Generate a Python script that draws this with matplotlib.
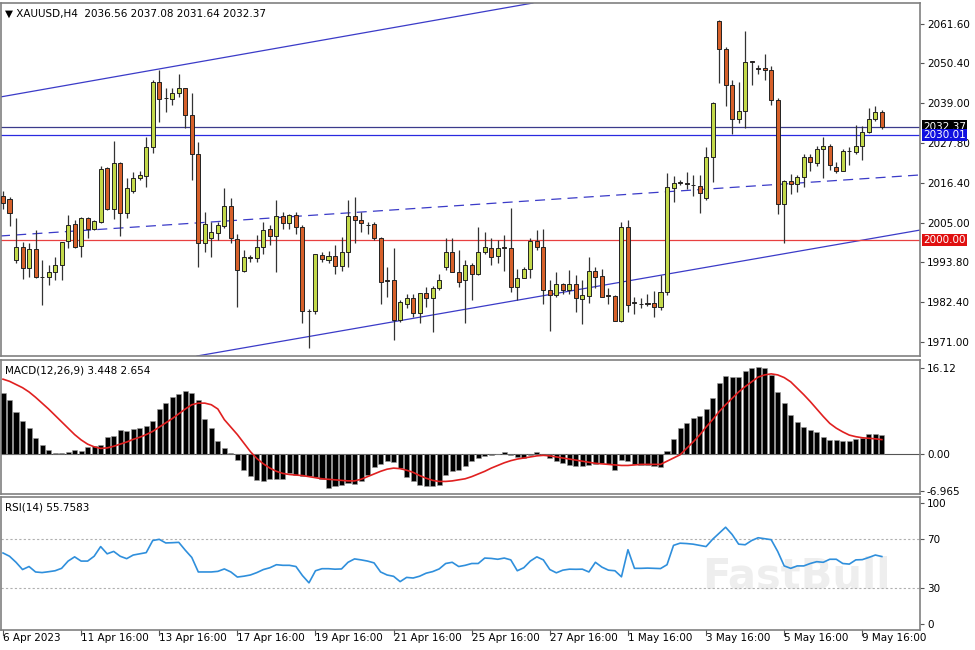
import matplotlib
matplotlib.use("Agg")
import matplotlib.pyplot as plt
import numpy as np

opens = [2012.5,2011.7,1994.4,1998.1,1992.1,1997.5,1989.6,1989.5,1991.0,1993.0,
 1999.8,2004.6,1998.4,2006.3,2003.2,2005.2,2020.6,2008.9,2022.0,2007.7,
 2014.0,2017.7,2018.3,2026.6,2045.1,2040.6,2040.2,2041.9,2043.4,2035.7,
 2024.6,1999.2,2000.6,2002.0,2004.0,2009.7,2000.3,1991.2,1995.0,1994.9,
 1998.1,2003.2,2001.2,2006.9,2004.9,2007.2,2003.8,1979.9,1979.8,1995.8,
 1994.4,1995.5,1992.7,1996.6,2006.9,2005.8,2004.4,2004.6,2000.6,1988.5,
 1988.7,1977.3,1981.8,1983.6,1979.3,1985.0,1983.6,1986.4,1992.4,1996.6,
 1991.0,1988.7,1993.0,1990.4,1996.6,1997.8,1995.5,1997.9,1997.8,1986.7,
 1989.2,1991.8,1999.8,1998.1,1985.8,1984.4,1987.5,1985.8,1987.5,1983.3,
 1984.1,1991.2,1989.8,1984.2,1984.1,1977.0,2003.8,1982.2,1981.9,1981.9,
 1982.1,1981.0,1985.3,2014.9,2016.4,2016.1,2015.8,2015.4,2012.0,2023.7,
 2062.5,2054.5,2044.2,2034.5,2036.8,2050.9,2049.1,2049.0,2048.5,2040.0,
 2010.3,2016.9,2016.0,2018.0,2023.7,2022.0,2026.0,2026.9,2020.9,2019.7,
 2025.5,2025.1,2026.9,2030.8,2034.5,2036.56]
closes = [2010.5,2007.7,1998.1,1992.1,1997.5,1989.5,1989.4,1991.0,1993.0,1999.5,
 2004.3,1998.1,2006.3,2003.2,2005.5,2020.3,2008.9,2022.0,2007.7,2014.9,
 2017.7,2018.6,2026.6,2045.1,2040.2,2040.4,2041.9,2043.4,2035.7,2024.6,
 1999.2,2004.6,2002.3,2004.3,2009.7,2000.6,1991.5,1995.2,1995.3,1998.1,
 2002.9,2001.2,2006.9,2004.9,2007.2,2003.8,1979.8,1979.7,1996.1,1994.6,
 1995.5,1992.7,1996.6,2006.9,2005.8,2004.9,2004.2,2000.6,1988.1,1988.3,
 1977.3,1982.4,1983.6,1979.3,1985.0,1983.6,1986.4,1988.7,1996.6,1991.0,
 1988.1,1993.0,1990.4,1996.6,1998.1,1995.2,1997.8,1997.7,1986.7,1989.2,
 1991.8,1999.8,1998.1,1985.8,1984.4,1987.5,1985.8,1987.5,1983.6,1984.4,
 1991.2,1989.5,1983.8,1984.0,1977.0,2003.8,1981.5,1982.0,1981.7,1981.8,
 1981.0,1985.3,2015.2,2016.3,2016.2,2016.0,2015.6,2013.4,2023.7,2039.1,
 2054.5,2044.2,2034.5,2036.8,2050.8,2050.7,2048.9,2048.5,2040.0,2010.3,
 2016.9,2016.0,2018.0,2023.7,2022.3,2026.0,2026.9,2021.4,2019.7,2025.4,
 2025.3,2026.9,2030.8,2034.5,2036.6,2032.37]
highs = [2014.0,2012.2,2006.2,1999.5,1999.2,2002.9,1994.4,1993.0,1995.2,1999.6,
 2007.2,2005.7,2006.7,2006.7,2005.7,2021.1,2020.9,2028.3,2022.4,2017.7,
 2019.5,2019.8,2029.4,2045.6,2048.5,2043.4,2043.5,2047.4,2043.3,2042.0,
 2028.0,2008.1,2005.3,2005.3,2014.8,2011.9,2001.9,1997.2,1995.8,2001.5,
 2005.3,2004.3,2011.6,2008.1,2007.6,2008.1,2004.3,1980.3,1996.2,1996.7,
 1997.0,1998.6,2001.0,2011.4,2012.4,2008.1,2005.3,2005.3,2001.0,1992.4,
 1997.9,1982.9,1984.8,1984.8,1985.0,1986.7,1986.9,1990.5,2000.5,2000.5,
 1997.2,1994.3,1993.4,2003.8,2002.4,2000.5,2000.0,2001.5,2009.3,1991.7,
 1992.4,2000.5,2002.9,2003.1,1988.6,1991.0,1987.7,1991.5,1990.1,1988.6,
 1995.1,1992.4,1991.9,1986.3,1984.4,2005.3,2005.7,1983.9,1983.4,1984.8,
 1985.6,1990.1,2019.2,2018.3,2017.1,2019.5,2018.6,2018.6,2026.6,2039.5,
 2062.7,2055.1,2045.6,2045.2,2059.7,2051.1,2049.9,2053.0,2049.6,2040.4,
 2017.1,2018.8,2018.6,2024.5,2024.7,2026.8,2029.5,2027.4,2022.4,2025.9,
 2026.6,2032.8,2032.5,2037.6,2038.2,2037.08]
lows = [2009.0,2004.0,1993.5,1989.0,1989.5,1989.2,1981.5,1987.2,1988.7,1988.6,
 1997.8,1997.7,1995.2,2000.6,2002.9,2004.8,2008.6,2006.0,2001.2,2006.2,
 2013.5,2017.1,2015.2,2024.9,2033.7,2036.5,2038.5,2040.9,2032.0,2017.2,
 1992.4,1996.7,1995.2,2000.0,2003.4,1999.1,1981.0,1991.0,1993.9,1993.9,
 1996.2,1998.6,1991.0,2003.1,2003.1,2001.9,1976.4,1969.3,1979.1,1993.9,
 1993.4,1990.3,1991.3,1992.4,1999.1,2002.4,2001.9,2000.0,1981.8,1983.9,
 1971.6,1976.8,1980.6,1978.2,1976.3,1981.0,1973.9,1985.8,1991.5,1991.0,
 1986.7,1976.3,1983.1,1990.1,1996.2,1992.9,1993.4,1991.3,1985.3,1983.1,
 1989.6,1989.1,1997.2,1981.8,1974.2,1983.9,1984.8,1984.8,1979.6,1976.1,
 1982.2,1986.3,1983.7,1981.8,1977.0,1976.8,1979.6,1979.1,1980.6,1981.2,
 1978.2,1980.1,1984.4,2010.9,2015.7,2014.5,2012.6,2007.8,2011.6,2016.7,
 2044.7,2038.2,2030.4,2033.5,2032.1,2044.2,2047.3,2045.6,2038.5,2007.6,
 1999.2,2013.3,2013.8,2015.2,2019.8,2021.1,2017.6,2020.0,2019.2,2019.8,
 2021.4,2024.5,2022.8,2030.6,2034.1,2031.64]

macd_hist = [11.4,10.1,7.9,6.1,4.8,2.9,1.6,0.7,0.06,0.1,0.3,0.7,0.6,1.2,1.4,1.7,3.1,3.3,4.5,4.3,
 4.6,4.8,5.25,6.2,8.4,9.6,10.6,11.2,11.8,11.4,10.0,6.6,4.8,2.4,1.1,0.2,-1.1,-3.0,-4.1,-4.9,
 -5.1,-4.8,-4.7,-4.7,-3.6,-3.9,-4.1,-4.25,-4.4,-4.7,-6.4,-6.0,-5.8,-5.5,-5.7,-5.2,-3.9,-2.4,-1.9,-1.4,
 -1.6,-2.7,-4.4,-5.2,-5.8,-6.1,-6.1,-5.8,
 -4.04,-3.29,-2.98,-2.36,-1.43,-0.81,-0.50,-0.31,-0.06,0.25,-0.31,-0.68,-0.81,-0.19,0.25,-0.19,-0.81,-1.30,-1.74,-2.05,
 -2.36,-2.36,-2.05,-1.93,-1.74,-1.93,-2.98,-1.12,-1.43,-1.93,-2.05,-2.17,-2.36,-2.55,0.43,2.80,4.78,5.71,6.77,7.14,
 8.39,10.50,13.35,14.60,14.41,14.41,15.47,16.09,16.21,16.09,14.84,11.61,9.44,7.27,6.02,5.09,4.47,4.04,3.23,2.61,
 2.61,2.42,2.42,2.73,3.04,3.66,3.66,3.448]
macd_signal = [14.0,13.6,13.0,12.4,11.6,10.6,9.5,8.4,7.2,6.0,4.8,3.6,2.6,1.8,1.3,1.0,1.1,1.4,1.8,2.2,
 2.7,3.1,3.6,4.2,5.0,5.8,6.6,7.5,8.4,9.2,9.5,9.5,9.2,8.4,6.4,5.0,3.6,2.0,0.4,-0.9,
 -1.9,-2.7,-3.3,-3.7,-3.9,-4.0,-4.1,-4.3,-4.5,-4.7,-4.8,-4.9,-5.0,-5.1,-5.1,-4.8,-4.3,-3.8,-3.3,-2.9,
 -2.7,-2.8,-3.1,-3.5,-4.1,-4.6,-5.0,-5.2,-5.2,-5.1,-4.9,-4.7,-4.3,-3.8,-3.3,-2.7,-2.2,-1.7,-1.3,-1.0,
 -0.8,-0.6,-0.4,-0.3,-0.4,-0.6,-0.8,-1.0,-1.2,-1.4,-1.6,-1.8,-1.9,-2.0,-2.1,-2.2,-2.2,-2.1,-2.0,-2.0,
 -2.0,-2.0,-1.4,-0.8,-0.2,1.0,2.2,3.5,5.0,6.4,7.9,9.2,10.4,11.6,12.6,13.5,14.4,14.8,15.0,14.8,
 14.3,13.5,12.3,11.1,9.8,8.4,7.0,5.7,4.8,4.1,3.5,3.2,3.0,2.9,2.8,2.654]
rsi = [58.7,56,51,45,47.5,43,42.5,43.2,44,46,52,55.5,52,52,56,64,58,60,56,54,
 57,58,59,69,70,67,67.2,67.5,61,55,43,43,43,43.5,45.5,43,38.8,39.5,40.5,42.5,
 45,46.5,49,48.5,48.5,47.5,40,34,44,45.7,45.7,45.3,45.5,51,53.8,53,52,50.5,43,40.5,
 39.4,35,38.5,38,39.5,42,43.3,45.5,50,51,47.5,48.5,50,50,54.5,54.2,53.5,54.5,53,44,
 46.5,52,55.5,53,45,42.3,44.5,45.3,45.2,45.3,43,51,47,44.5,44,39,61.4,46,46,46.2,
 46,45.8,49,65,66.8,66.5,66,65,64,70,75,80,74,66,65.5,69,71.3,70.5,69.7,60,
 48,46,48,48,50,51.5,51,53.5,53.5,50,49.5,53,53.2,55,57,55.76]

time_labels = ["6 Apr 2023","11 Apr 16:00","13 Apr 16:00","17 Apr 16:00","19 Apr 16:00",
 "21 Apr 16:00","25 Apr 16:00","27 Apr 16:00","1 May 16:00","3 May 16:00",
 "5 May 16:00","9 May 16:00"]
price_ticks = [2061.60,2050.40,2039.00,2027.80,2016.40,2005.00,1993.80,1982.40,1971.00]

W, H = 975, 650
fig = plt.figure(figsize=(9.75, 6.5), dpi=100)
fig.patch.set_facecolor("white")
def ax_at(x0, y0, x1, y1):
    return fig.add_axes([x0/W, 1-y1/H, (x1-x0)/W, (y1-y0)/H])

axm = ax_at(1, 3, 920, 356)
axd = ax_at(1, 360, 920, 494)
axr = ax_at(1, 497, 920, 630)

n = len(closes)
x = np.arange(n)
step = 6.51
xl = (1-3)/step; xr = (920-3)/step
for a in (axm, axd, axr):
    a.set_xlim(xl, xr)
    a.set_xticks([])
    for s in a.spines.values():
        s.set_color("#808080"); s.set_linewidth(1.2)
    a.yaxis.tick_right()
    a.tick_params(axis="y", labelsize=7.5, length=3, color="#555555", pad=2)

# main
axm.set_ylim(1967.0, 2067.6)
bull = "#c3d94a"; bear = "#d6602a"
o = np.array(opens); c = np.array(closes)
axm.vlines(x, lows, highs, color="#333333", lw=0.9, zorder=3)
bot = np.minimum(o, c); hgt = np.maximum(np.abs(c-o), 0.25)
cols = [bull if cc >= oo else bear for oo, cc in zip(o, c)]
axm.bar(x, hgt, bottom=bot, width=0.62, color=cols, edgecolor="#222222", linewidth=0.7, zorder=4)

# channel lines (x in bar index, y in price)
axm.plot([-0.46, 81.4], [2040.8, 2067.6], color="#3b3bc8", lw=0.9, zorder=2)
axm.plot([-0.46, 140.9], [2001.2, 2018.6], color="#3b3bc8", lw=0.9, ls=(0, (8, 5)), zorder=2)
axm.plot([29.8, 140.9], [1967.0, 2002.9], color="#3b3bc8", lw=0.9, zorder=2)
axm.axhline(2032.37, color="#3b3b8c", lw=0.9, zorder=2)
axm.axhline(2030.01, color="#2a2ae0", lw=0.9, zorder=2)
axm.axhline(2000.00, color="#e84040", lw=0.9, zorder=2)

axm.set_yticks(price_ticks)
axm.set_yticklabels([f"{v:.2f}" for v in price_ticks])
for val, bg in [(2032.37, "black"), (2030.01, "#1010e0"), (2000.00, "#e01010")]:
    axm.text(1.003, val, f"{val:.2f}", transform=axm.get_yaxis_transform(), fontsize=7.5,
             color="white", va="center", ha="left",
             bbox=dict(boxstyle="square,pad=0.12", fc=bg, ec="none"), zorder=10, clip_on=False)
axm.text(0.004, 0.985, "\u25BC XAUUSD,H4  2036.56 2037.08 2031.64 2032.37", transform=axm.transAxes,
         fontsize=7.5, va="top", ha="left")

# MACD
axd.set_ylim(-7.56, 17.6)
axd.bar(x, macd_hist, width=0.78, color="black", edgecolor="#9a9a9a", linewidth=0.4, zorder=2)
axd.plot(x, macd_signal, color="#e02020", lw=1.2, zorder=3)
axd.axhline(0, color="#555555", lw=0.8, xmin=0, xmax=1, zorder=1)
axd.set_yticks([16.12, 0.0, -6.965])
axd.set_yticklabels(["16.12", "0.00", "-6.965"])
axd.text(0.004, 0.96, "MACD(12,26,9) 3.448 2.654", transform=axd.transAxes, fontsize=7.5, va="top")

# RSI
axr.set_ylim(-5, 105)
axr.axhline(70, color="#b0b0b0", lw=0.8, ls=(0, (2, 2)))
axr.axhline(30, color="#b0b0b0", lw=0.8, ls=(0, (2, 2)))
axr.plot(x, rsi, color="#2f8fdc", lw=1.2)
axr.set_yticks([100, 70, 30, 0])
axr.text(0.004, 0.96, "RSI(14) 55.7583", transform=axr.transAxes, fontsize=7.5, va="top")
axr.text(0.865, 0.40, "FastBull", transform=axr.transAxes, fontsize=30, fontweight="bold",
         color="#eeeeee", ha="center", va="center", zorder=0)

# time axis
tick_idx = [12*k for k in range(len(time_labels))]
for k, lab in zip(tick_idx, time_labels):
    axr.plot([k, k], [-5, -9], color="#555555", lw=0.8, clip_on=False,
             transform=axr.transData)
    axr.text(k, -7.5, lab, fontsize=7.5, ha="left" if k else "left", va="top",
             transform=axr.transData, clip_on=False)

fig.savefig("out.png", dpi=100, facecolor="white")
